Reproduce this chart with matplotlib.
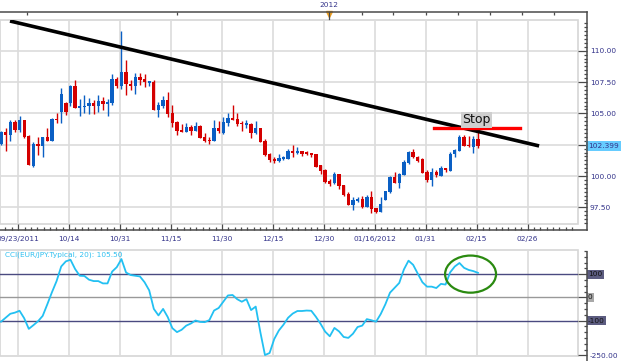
import matplotlib
matplotlib.use("Agg")
import matplotlib.pyplot as plt
from matplotlib.lines import Line2D
from matplotlib.patches import Rectangle, Ellipse
from matplotlib.ticker import MultipleLocator, FixedLocator
from matplotlib.transforms import blended_transform_factory
import numpy as np

# EUR/JPY daily candles
opens = [102.55, 103.54, 103.27, 104.33, 103.67, 104.47, 103.19, 100.82, 102.48, 102.42,
         103.11, 102.82, 104.55, 105.08, 105.85, 105.85, 107.18, 105.45, 105.50, 105.59,
         105.85, 105.59, 105.98, 105.75, 105.80, 107.74, 107.18, 108.28, 107.34, 107.21,
         107.88, 107.74, 107.45, 107.48, 105.27, 105.59, 106.07, 105.00, 104.29, 103.67,
         103.54, 103.89, 103.62, 104.00, 103.14, 102.83, 102.82, 103.83, 103.41, 104.21,
         104.61, 104.55, 104.25, 104.10, 104.15, 103.41, 103.83, 102.82, 101.73, 101.33,
         101.22, 101.33, 101.38, 102.00, 101.81, 101.99, 101.83, 101.81, 101.76, 100.88,
         100.48, 99.60, 99.42, 100.14, 99.28, 98.54, 97.69, 98.00, 98.14, 97.55,
         98.35, 97.42, 97.15, 98.09, 98.70, 99.90, 99.47, 100.08, 101.01, 101.89,
         101.49, 101.33, 100.35, 99.68, 100.35, 100.00, 100.62, 100.42, 101.73, 102.02,
         103.09, 102.45, 102.29, 102.95]
highs = [103.59, 103.81, 104.47, 104.47, 104.81, 104.50, 103.25, 102.74, 103.14, 103.13,
         103.86, 104.60, 105.00, 107.00, 105.90, 107.26, 107.66, 106.12, 106.46, 106.20,
         106.07, 106.46, 106.33, 106.15, 108.12, 107.93, 111.57, 109.26, 107.66, 108.20,
         108.20, 108.14, 107.58, 107.66, 105.93, 106.41, 106.73, 105.67, 104.39, 104.13,
         104.21, 104.07, 104.31, 104.05, 103.46, 103.14, 104.47, 104.41, 104.73, 105.00,
         105.67, 105.00, 104.41, 104.47, 104.21, 104.41, 103.85, 102.93, 101.81, 101.49,
         101.73, 101.60, 102.13, 102.47, 102.29, 102.01, 102.00, 101.83, 101.78, 100.90,
         100.53, 99.74, 100.30, 100.16, 99.30, 98.75, 98.35, 98.35, 98.41, 98.48,
         98.80, 97.45, 98.30, 98.83, 100.00, 100.35, 100.26, 101.28, 102.02, 102.13,
         101.60, 101.41, 100.48, 100.62, 100.48, 100.80, 100.64, 101.89, 102.13, 103.27,
         103.27, 103.22, 103.22, 103.49]
lows = [102.47, 101.99, 102.79, 103.54, 103.54, 103.01, 100.85, 100.74, 101.68, 101.54,
        102.80, 102.78, 104.20, 104.20, 104.90, 105.59, 105.40, 104.79, 105.00, 104.93,
        104.93, 105.11, 105.27, 104.81, 105.67, 107.00, 106.94, 106.46, 106.86, 106.55,
        107.26, 107.13, 107.18, 105.25, 104.73, 105.40, 104.73, 103.94, 103.27, 103.49,
        103.49, 103.27, 103.60, 103.03, 102.74, 102.53, 102.80, 103.41, 103.39, 103.99,
        104.45, 103.99, 103.62, 103.81, 103.01, 103.39, 102.69, 101.60, 101.09, 101.06,
        101.09, 101.28, 101.36, 101.49, 101.79, 101.60, 101.68, 101.52, 100.72, 100.14,
        99.47, 99.23, 99.40, 98.96, 98.43, 97.67, 97.29, 97.95, 97.42, 97.53,
        97.07, 97.02, 97.13, 98.07, 98.62, 99.42, 99.07, 100.06, 100.99, 101.41,
        101.14, 100.22, 99.55, 99.23, 99.94, 99.98, 100.35, 100.40, 101.54, 102.00,
        102.38, 102.34, 101.81, 102.21]
closes = [103.54, 103.27, 104.33, 103.67, 104.47, 103.09, 100.88, 102.53, 102.42, 103.11,
          102.82, 104.55, 104.47, 106.55, 105.08, 107.18, 105.45, 105.59, 105.62, 105.85,
          105.59, 106.01, 105.72, 105.88, 107.74, 107.18, 108.28, 107.32, 107.18, 107.88,
          107.66, 107.48, 107.52, 105.27, 105.67, 106.07, 104.95, 104.25, 103.59, 103.54,
          103.89, 103.59, 104.00, 103.06, 102.79, 102.77, 103.83, 103.62, 104.31, 104.61,
          104.47, 104.15, 104.13, 104.17, 103.41, 103.83, 102.74, 101.65, 101.28, 101.20,
          101.41, 101.49, 102.02, 101.86, 101.99, 101.73, 101.78, 101.68, 100.74, 100.42,
          99.55, 99.36, 100.14, 99.23, 98.48, 97.69, 98.09, 98.14, 97.55, 98.35,
          97.34, 97.15, 97.74, 98.80, 99.90, 99.47, 100.16, 101.09, 101.89, 101.49,
          101.22, 100.26, 99.68, 100.35, 100.08, 100.62, 100.48, 101.76, 102.08, 103.14,
          102.40, 102.36, 102.95, 102.399]

# CCI(20) on typical price, one value per candle
cci = [-105, -88, -71, -66, -58, -90, -136, -120, -103, -80,
       -30, 22, 70, 133, 155, 162, 122, 93, 92, 76,
       70, 70, 60, 60, 111, 130, 165, 107, 96, 93,
       90, 65, 30, -50, -78, -50, -85, -133, -150, -140,
       -122, -113, -100, -106, -107, -98, -57, -46, -19, 8,
       10, -8, -19, -8, -55, -40, -150, -249, -240, -180,
       -143, -118, -88, -70, -59, -59, -57, -58, -84, -114,
       -148, -168, -132, -147, -171, -175, -157, -128, -122, -94,
       -99, -105, -72, -30, 20, 41, 62, 120, 158, 140,
       102, 65, 46, 46, 40, 58, 55, 108, 133, 148,
       127, 118, 113, 105.5]

date_pos = [3.7, 14.7, 25.7, 36.7, 47.7, 58.7, 69.7, 80.7, 91.7, 102.7, 113.7]
date_labels = ['09/23/2011', '10/14', '10/31', '11/15', '11/30', '12/15', '12/30',
               '01/16/2012', '01/31', '02/15', '02/26']
top_ticks = [5.6, 38.0, 70.8, 78.0, 84.7, 91.8, 98.7, 105.6, 112.5, 119.4]
price_ticks = [97.5, 100, 102.5, 105, 107.5, 110]
price_labels = ['97.50', '100.00', '', '105.00', '107.50', '110.00']
last_price = 102.399
last_cci = 105.50

# annotations drawn on the chart
trend_x = [1.94, 116.2]
trend_y = [112.37, 102.40]
stop_x = [93.5, 112.1]
stop_y = 103.83

W, H = 624, 361
def fx(px):
    return px / W
def fy(py):
    return 1 - py / H

blue = '#0a5fc4'
red = '#d40000'
grid_c = '#dcdcdc'
axis_c = '#4a4a4a'
lab_c = '#33338a'

fig = plt.figure(figsize=(W / 100, H / 100), dpi=100)
fig.patch.set_facecolor('white')

ax = fig.add_axes([0, fy(224), fx(578), (224 - 20) / H])
ax2 = fig.add_axes([0, fy(356), fx(578), (356 - 250) / H])

n = len(closes)
idx = np.arange(n)
o = np.array(opens); c = np.array(closes)
hi = np.array(highs); lo = np.array(lows)
up = c >= o
cols = np.where(up, blue, red)
body_lo = np.minimum(o, c)
body_h = np.maximum(np.abs(c - o), 0.1)

ax.vlines(idx, lo, hi, colors=cols, lw=1.0, zorder=3)
ax.bar(idx, body_h, bottom=body_lo, width=0.72, color=cols, lw=0, zorder=4)

ax.set_xlim(-0.22, 124.6)
ax.set_ylim(96.17, 112.45)

# trend line and stop level
ax.plot(trend_x, trend_y, color='black', lw=2.6, solid_capstyle='butt', zorder=6)
ax.plot(stop_x, [stop_y, stop_y], color='#ff0000', lw=2.4, zorder=6)
ax.text(102.7, 104.47, 'Stop', fontsize=9, ha='center', va='center', color='#111111', zorder=7,
        bbox=dict(boxstyle='square,pad=0.12', fc='#cfcfcf', ec='none'))

# grid and frame
ax.set_xticks(date_pos, labels=date_labels)
ax.set_yticks(price_ticks, labels=price_labels)
ax.xaxis.set_minor_locator(MultipleLocator(11 / 8, offset=3.7))
ax.yaxis.set_minor_locator(MultipleLocator(2.5 / 8))
ax.grid(True, which='major', color=grid_c, lw=1.2, zorder=0)
ax.yaxis.tick_right()
for s in ax.spines.values():
    s.set_visible(False)
ax.spines['right'].set_position(('outward', 9 * 0.72))
ax.spines['bottom'].set_position(('outward', 6 * 0.72))
ax.tick_params(axis='both', which='major', direction='in', length=4.5, width=0.9, color=axis_c,
               labelsize=5.3, labelcolor=lab_c)
ax.tick_params(axis='y', which='major', length=6.5, pad=2)
ax.tick_params(axis='x', which='major', pad=4.3)
ax.tick_params(axis='both', which='minor', direction='in', length=2.2, width=0.9, color=axis_c)
ax.add_patch(Rectangle((0, 0), 1, 1, transform=ax.transAxes, fill=False, ec='#d6d6d6', lw=1.2,
                       clip_on=False, zorder=1))

secax = ax.secondary_xaxis(1 + 8 / 204)
secax.set_xticks(top_ticks, labels=[''] * len(top_ticks))
secax.spines['top'].set_visible(False)
secax.tick_params(direction='in', length=2.5, width=0.9, color=axis_c)

# last price tag
bt = blended_transform_factory(fig.transFigure, ax.transData)
ax.text(fx(588), last_price, '102.399', transform=bt, fontsize=5.3, color=lab_c, va='center',
        ha='left', bbox=dict(boxstyle='square,pad=0.25', fc='#66ccff', ec='none'), clip_on=False)

# 2012 marker on top axis
tt = blended_transform_factory(ax.transData, fig.transFigure)
ax.plot([70.8], [fy(14)], marker='v', color='#f0a020', ms=4, transform=tt, clip_on=False)
ax.plot([70.8, 70.8], [fy(12), fy(19)], color=axis_c, lw=0.9, transform=tt, clip_on=False)
ax.text(70.8, fy(5), '2012', transform=tt, fontsize=5.3, color=lab_c, ha='center', va='center')

# CCI panel
ax2.plot(idx, cci, color='#22c0f2', lw=1.3, zorder=4)
ax2.axhline(100, color='#4a4a80', lw=1.0, zorder=2)
ax2.axhline(-100, color='#4a4a80', lw=1.0, zorder=2)
ax2.axhline(0, color='#999999', lw=1.0, zorder=2)
ax2.add_patch(Ellipse((101.4, 100), width=11, height=160, fill=False, ec='#2a8a10', lw=1.6, zorder=5))
ax2.set_xlim(-0.22, 124.6)
ax2.set_ylim(-253, 204)
ax2.set_xticks(date_pos, labels=[''] * len(date_pos))
ax2.grid(True, axis='x', color=grid_c, lw=1.2, zorder=0)
ax2.yaxis.tick_right()
ax2.set_yticks([100, 0, -100, -250], labels=['', '', '', '-250.00'])
ax2.yaxis.set_minor_locator(MultipleLocator(25))
for s in ax2.spines.values():
    s.set_visible(False)
ax2.spines['right'].set_position(('outward', 9 * 0.72))
ax2.tick_params(axis='x', length=0)
ax2.tick_params(axis='y', which='major', direction='in', length=6.5, width=0.9, color=axis_c,
                labelsize=5.3, labelcolor=lab_c, pad=2)
ax2.tick_params(axis='y', which='minor', direction='in', length=2.2, width=0.9, color=axis_c)
ax2.add_patch(Rectangle((0, 0), 1, 1, transform=ax2.transAxes, fill=False, ec='#d6d6d6', lw=1.2,
                        clip_on=False, zorder=1))
ax2.text(fx(5), fy(255), 'CCI(EUR/JPY.Typical, 20): %.2f' % last_cci, transform=fig.transFigure,
         fontsize=5.3, color='#30c0f0', ha='left', va='center')

bt2 = blended_transform_factory(fig.transFigure, ax2.transData)
for val, txt, fc in [(100, '100', '#5c5c80'), (0, '0', '#a8a8a8'), (-100, '-100', '#5c5c80')]:
    ax2.text(fx(588), val, txt, transform=bt2, fontsize=5.3, color='#111111', va='center', ha='left',
             bbox=dict(boxstyle='square,pad=0.2', fc=fc, ec='none'), clip_on=False)

# dark axis lines
for xs, ys in [([0, 587], [12, 12]), ([587, 587], [12, 230]), ([0, 587], [230, 230]),
               ([587, 587], [252, 361])]:
    fig.add_artist(Line2D([fx(v) for v in xs], [fy(v) for v in ys], color=axis_c, lw=1.1))

fig.savefig('out.png', dpi=100)
